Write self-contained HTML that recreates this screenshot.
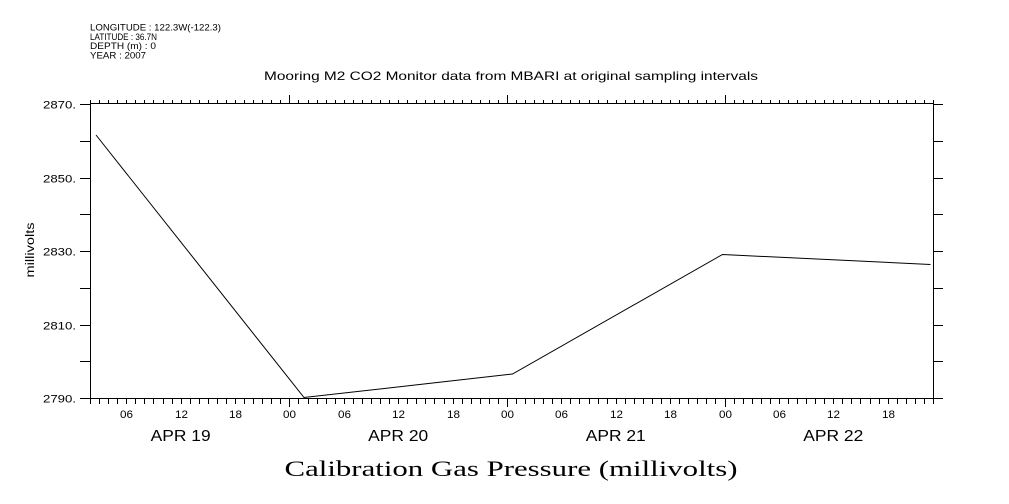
<!DOCTYPE html>
<html><head><meta charset="utf-8"><style>
html,body{margin:0;padding:0;background:#fff;}
svg{display:block;}
text{font-family:"Liberation Sans",sans-serif;fill:#000;}
</style></head><body>
<svg width="1009" height="504" viewBox="0 0 1009 504" xmlns="http://www.w3.org/2000/svg">
<g font-size="9.5">
<text x="90" y="30.5" textLength="131" lengthAdjust="spacingAndGlyphs">LONGITUDE : 122.3W(-122.3)</text>
<text x="90" y="40" textLength="67" lengthAdjust="spacingAndGlyphs">LATITUDE : 36.7N</text>
<text x="90" y="49" textLength="66" lengthAdjust="spacingAndGlyphs">DEPTH (m) : 0</text>
<text x="90" y="58.5" textLength="56" lengthAdjust="spacingAndGlyphs">YEAR : 2007</text>
</g>
<text x="264" y="80" font-size="12" textLength="494" lengthAdjust="spacingAndGlyphs">Mooring M2 CO2 Monitor data from MBARI at original sampling intervals</text>
<g stroke="#000" stroke-width="1" fill="none" shape-rendering="crispEdges">
<rect x="90.5" y="103.5" width="843" height="295"/>
</g>
<g id="tk" stroke="#000" stroke-width="1" shape-rendering="crispEdges"></g>
<g id="lab"></g>
<text transform="translate(34,250) rotate(-90)" font-size="11.5" text-anchor="middle" textLength="55" lengthAdjust="spacingAndGlyphs">millivolts</text>
<text x="511" y="476" font-size="22" textLength="453" lengthAdjust="spacingAndGlyphs" text-anchor="middle" style="font-family:'Liberation Serif',serif">Calibration Gas Pressure (millivolts)</text>
<polyline points="96,135 304,397.5 512.5,374 722.5,254.5 930.5,264.5" fill="none" stroke="#000" stroke-width="1"/>
<script>
var ns="http://www.w3.org/2000/svg";
var tk=document.getElementById("tk"),lab=document.getElementById("lab");
function ln(x1,y1,x2,y2){var l=document.createElementNS(ns,"line");l.setAttribute("x1",x1);l.setAttribute("y1",y1);l.setAttribute("x2",x2);l.setAttribute("y2",y2);tk.appendChild(l);}
function tx(x,y,s,fs,anchor,tl){var t=document.createElementNS(ns,"text");t.setAttribute("x",x);t.setAttribute("y",y);t.setAttribute("font-size",fs);t.setAttribute("text-anchor",anchor);if(tl){t.setAttribute("textLength",tl);t.setAttribute("lengthAdjust","spacingAndGlyphs");}t.textContent=s;lab.appendChild(t);}
var ppH=843/93;
for(var h=2;h<=95;h++){
  var x=Math.round(90+(h-2)*ppH)+0.5;
  var major=(h%24==0);
  ln(x,103.5,x,major?95:100);
  ln(x,398.5,x,major?407:404);
  if(h%6==0){var hh=h%24;tx(x,418,(hh<10?"0":"")+hh,11,"middle",13);}
}
var days=["APR 19","APR 20","APR 21","APR 22"];
for(var d=0;d<4;d++){var cx=90+(d*24+12-2)*ppH;tx(cx,441,days[d],16,"middle",60);}
for(var v=2790;v<=2870;v+=10){
  var y=Math.round(398-(v-2790)*294/80)+0.5;
  ln(80,y,90,y);ln(933,y,943,y);
  if((v-2790)%20==0){tx(76,y+4,v+".",11,"end",33);}
}
</script>
</svg>
</body></html>
